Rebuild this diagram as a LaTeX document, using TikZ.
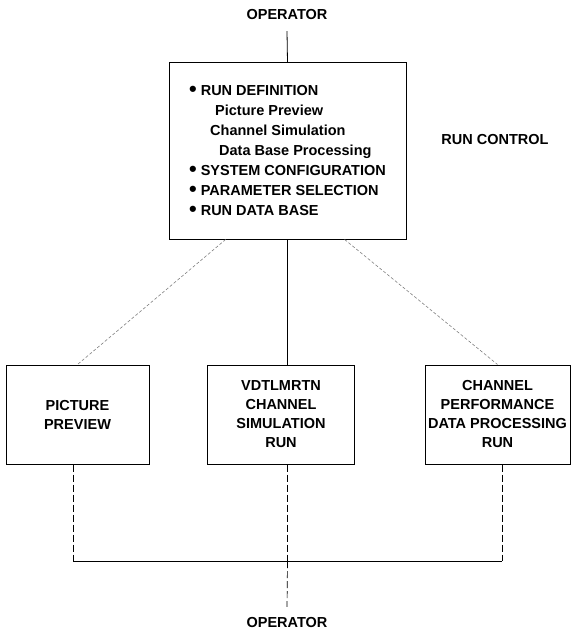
\documentclass[tikz,border=0pt]{standalone}
\usepackage{fontspec}
\setmainfont{Liberation Sans}
\usepackage{graphicx}
\usepackage{tikz}
\usetikzlibrary{calc, positioning}

\newcommand{\bigdot}{\raisebox{-0.5pt}{\scalebox{1.5}{\textbullet}}\hspace{4pt}}

\begin{document}
\begin{tikzpicture}[x=1pt, y=-1pt,
    every node/.style={font=\bfseries\fontsize{14.5}{19}\selectfont, inner sep=1pt},
    block/.style={draw, line width=1pt, align=center},
    link/.style={line width=0.8pt},
    faint/.style={line width=0.6pt, gray, dash pattern=on 3pt off 2pt},
    drop/.style={line width=0.7pt, dash pattern=on 7pt off 3pt}]
  \useasboundingbox (0,0) rectangle (571,636);

  % operator on top and the run control box
  \node[outer ysep=10pt] (opin) at (287,15) {OPERATOR};
  \node[block, minimum width=237pt, minimum height=176pt,
        font=\bfseries\fontsize{14.5}{20}\selectfont, align=left] (ctrl) at (287.5,151)
    {\bigdot RUN DEFINITION\\
     \hspace*{26pt}Picture Preview\\
     \hspace*{21pt}Channel Simulation\\
     \hspace*{30pt}Data Base Processing\\
     \bigdot SYSTEM CONFIGURATION\\
     \bigdot PARAMETER SELECTION\\
     \bigdot RUN DATA BASE};
  \node (runctl) at (495,140) {RUN CONTROL};

  % the three runs
  \node[block, minimum width=143pt, minimum height=99pt] (prev) at (77.5,414.5)
    {PICTURE\\PREVIEW};
  \node[block, minimum width=147pt, minimum height=99pt] (sim) at (281,414.5)
    {VDTLMRTN\\CHANNEL\\SIMULATION\\RUN};
  \node[block, minimum width=145pt, minimum height=99pt] (perf) at (497.5,414.5)
    {CHANNEL\\PERFORMANCE\\DATA PROCESSING\\RUN};

  % operator at the bottom
  \node[outer ysep=10pt] (opout) at (287,623) {OPERATOR};

  % bus ends
  \coordinate (busl) at (73,561);
  \coordinate (busr) at (502,561);

  % links
  \draw[link] (opin.south) -- (ctrl.north);
  \draw[faint] ($(ctrl.south west)!0.24!(ctrl.south east)$) -- (prev.north);
  \draw[link] (ctrl.south) -- (ctrl.south |- sim.north);
  \draw[faint] ($(ctrl.south west)!0.74!(ctrl.south east)$) -- (perf.north);

  \draw[drop] (busl |- prev.south) -- (busl);
  \draw[drop] (ctrl.south |- sim.south) -- (ctrl.south |- busl);
  \draw[drop] (busr |- perf.south) -- (busr);
  \draw[link] (busl) -- (busr);
  \draw[drop] (ctrl.south |- busl) -- (opout.north);
\end{tikzpicture}
\end{document}
